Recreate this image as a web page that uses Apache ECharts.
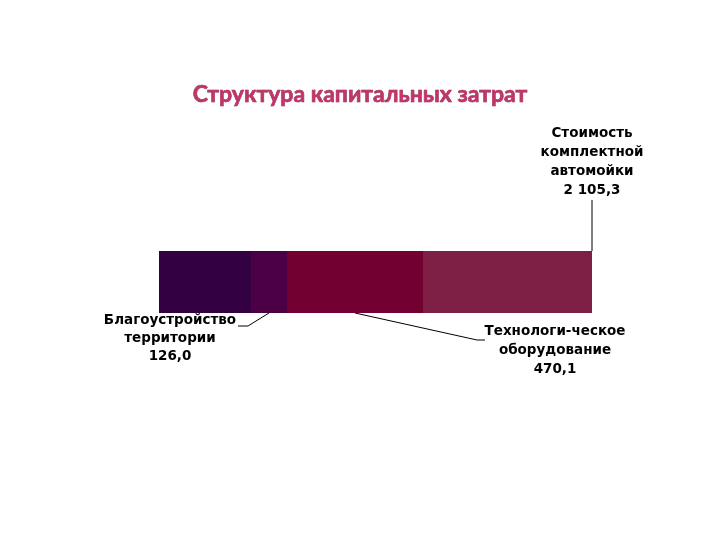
<!DOCTYPE html>
<html><head><meta charset="utf-8">
<script src="https://cdn.jsdelivr.net/npm/echarts@6/dist/echarts.min.js"></script>
<style>html,body{margin:0;padding:0;background:#fff}#c{width:720px;height:540px}</style>
</head><body><div id="c"></div>
<script>
// Segment shares of the bar (estimated widths, relative units)
var segments = ['Прочие затраты', 'Благоустройство территории', 'Технологи-ческое оборудование', 'Стоимость комплектной автомойки'];
var values = [92, 36, 136, 169];
var colors = ['#330041', '#4b0046', '#720030', '#7e2046'];
var labelTexts = ['Стоимость\nкомплектной\nавтомойки\n2 105,3', 'Благоустройство\nтерритории\n126,0', 'Технологи-ческое\nоборудование\n470,1'];
var total = values.reduce(function(a, b){ return a + b; }, 0);

var chart = echarts.init(document.getElementById('c'));
var series = values.map(function(v, i){
  return {
    name: segments[i], type: 'bar', stack: 's', barWidth: '100%',
    data: [v], itemStyle: { color: colors[i] }, silent: true
  };
});
chart.setOption({
  animation: false,
  title: {
    text: 'Структура капитальных затрат', left: 'center', top: 78,
    textStyle: { fontFamily: 'Lato', fontWeight: 'bold', fontSize: 23, color: '#c2346a',
      textBorderColor: '#7a1638', textBorderWidth: 0.6 }
  },
  grid: { left: 159, width: 433, top: 251, height: 62 },
  xAxis: { type: 'value', min: 0, max: total, show: false },
  yAxis: { type: 'category', data: ['x'], show: false },
  series: series
});

function px(x, y){ return chart.convertToPixel({ gridIndex: 0 }, [x, y]); }
var barTop = 251, barBot = 313;
var endX = px(total, 0)[0];
var seg2Mid = px(values[0] + values[1] / 2, 0)[0];
var seg3Mid = px(values[0] + values[1] + values[2] / 2, 0)[0];
var font = 'bold 13.5px "DejaVu Sans"';
var ls = { stroke: '#000', lineWidth: 1 };
chart.setOption({
  graphic: [
    { type: 'text', x: endX, y: 124, style: { text: labelTexts[0], font: font, fill: '#000', align: 'center', lineHeight: 19 } },
    { type: 'line', shape: { x1: endX, y1: 200, x2: endX, y2: barTop }, style: ls },
    { type: 'text', x: 170, y: 311, style: { text: labelTexts[1], font: font, fill: '#000', align: 'center', lineHeight: 18 } },
    { type: 'polyline', shape: { points: [[238, 326], [248, 326], [seg2Mid, barBot]] }, style: Object.assign({ fill: null }, ls) },
    { type: 'text', x: 555, y: 322, style: { text: labelTexts[2], font: font, fill: '#000', align: 'center', lineHeight: 19 } },
    { type: 'polyline', shape: { points: [[seg3Mid, barBot], [477, 340], [485, 340]] }, style: Object.assign({ fill: null }, ls) }
  ]
});
</script></body></html>
